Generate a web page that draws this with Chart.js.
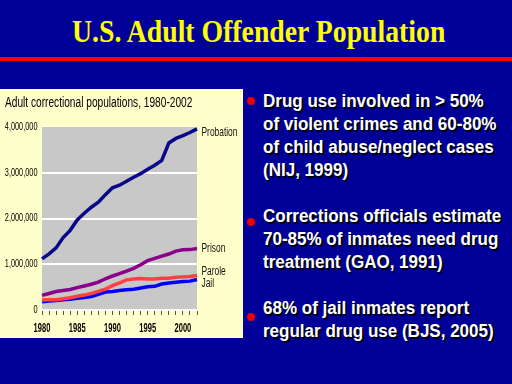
<!DOCTYPE html>
<html>
<head>
<meta charset="utf-8">
<script src="https://cdn.jsdelivr.net/npm/chart.js@4.4.1/dist/chart.umd.min.js"></script>
<style>
  html, body { margin: 0; padding: 0; }
  body { width: 512px; height: 384px; background: #000099; position: relative; overflow: hidden; }
  #title {
    position: absolute; left: 72px; top: 16px;
    font-family: 'Liberation Serif', 'Times New Roman', serif; font-weight: bold;
    font-size: 31px; line-height: 31px; color: #ffff00; white-space: nowrap;
    transform: scaleX(0.895); transform-origin: left top;
  }
  #rule { position: absolute; left: 0; top: 57px; width: 512px; height: 4px; background: #ff0000; }
  #panel { position: absolute; left: 0; top: 89px; width: 243px; height: 249px; background: #ffffcc; }
  .point {
    position: absolute; left: 263px; color: #ffffff;
    font-family: 'Liberation Sans', Arial, sans-serif; font-weight: bold;
    font-size: 18px; line-height: 23px; white-space: nowrap;
    text-shadow: 2px 2px 0 #000000;
    transform: scaleX(0.945); transform-origin: left top;
  }
  .dot { position: absolute; width: 8px; height: 8px; border-radius: 50%; background: #ee0000; }
</style>
</head>
<body>
<div id="title">U.S. Adult Offender Population</div>
<div id="rule"></div>
<div id="panel"><canvas id="chart" width="243" height="249"></canvas></div>

<div class="dot" style="left:247px; top:97px;"></div>
<div class="point" style="top:90px;">Drug use involved in &gt; 50%<br>of violent crimes and 60-80%<br>of child abuse/neglect cases<br>(NIJ, 1999)</div>

<div class="dot" style="left:247px; top:218px;"></div>
<div class="point" style="top:205px;">Corrections officials estimate<br>70-85% of inmates need drug<br>treatment (GAO, 1991)</div>

<div class="dot" style="left:247px; top:313px;"></div>
<div class="point" style="top:297px;">68% of jail inmates report<br>regular drug use (BJS, 2005)</div>

<script>
const years = ['1980','1981','1982','1983','1984','1985','1986','1987','1988','1989','1990',
               '1991','1992','1993','1994','1995','1996','1997','1998','1999','2000','2001','2002'];

const probation = [1118000, 1226000, 1357000, 1583000, 1741000, 1969000, 2115000, 2247000, 2356000, 2522000, 2670000,
                   2728000, 2812000, 2903000, 2981000, 3078000, 3165000, 3270000, 3650000, 3750000, 3810000, 3880000, 3960000];
const prison = [320000, 360000, 403000, 424000, 448000, 488000, 526000, 563000, 608000, 683000, 743000,
                793000, 851000, 909000, 990000, 1079000, 1128000, 1177000, 1224000, 1287000, 1316000, 1320000, 1345000];
const parole = [220000, 226000, 225000, 246000, 267000, 300000, 326000, 362000, 408000, 457000, 531000,
                590000, 659000, 676000, 690000, 679000, 680000, 695000, 696000, 714000, 724000, 732000, 753000];
const jail = [182000, 195000, 208000, 222000, 233000, 255000, 273000, 294000, 342000, 393000, 403000,
              424000, 442000, 456000, 480000, 507000, 518000, 567000, 592000, 606000, 621000, 631000, 665000];

const seriesNames = ['Probation', 'Prison', 'Parole', 'Jail'];
const yTicks = [0, 1000000, 2000000, 3000000, 4000000];
const chartTitle = 'Adult correctional populations, 1980-2002';

const sans = "'Liberation Sans', Arial, sans-serif";

// the original uses a very condensed font, so squeeze the text sideways
function narrowText(ctx, text, x, y, align, sx) {
    ctx.save();
    ctx.translate(x, y);
    ctx.scale(sx, 1);
    ctx.textAlign = align;
    ctx.fillText(text, 0, 0);
    ctx.restore();
}

// grey plot background
const plotBg = {
    id: 'plotBg',
    beforeDraw(chart) {
        const a = chart.chartArea;
        const ctx = chart.ctx;
        ctx.save();
        ctx.fillStyle = '#c8c8c8';
        ctx.fillRect(a.left, a.top, a.right - a.left, a.bottom - a.top);
        ctx.restore();
    }
};

// title, tick labels and the names at the right end of each line
const narrowLabels = {
    id: 'narrowLabels',
    afterDraw(chart) {
        const ctx = chart.ctx;
        const a = chart.chartArea;
        const xs = chart.scales.x;
        const ys = chart.scales.y;
        ctx.save();
        ctx.fillStyle = '#000000';
        ctx.textBaseline = 'middle';

        ctx.font = '14px ' + sans;
        narrowText(ctx, chartTitle, 5, 14, 'left', 0.725);

        ctx.font = '10.5px ' + sans;
        yTicks.forEach(v => {
            narrowText(ctx, v.toLocaleString('en-US'), a.left - 4.5, ys.getPixelForValue(v), 'right', 0.7);
        });

        ctx.font = 'bold 13.5px ' + sans;
        years.forEach((yr, i) => {
            if (Number(yr) % 5 === 0) {
                narrowText(ctx, yr, xs.getPixelForValue(i), a.bottom + 18, 'center', 0.56);
            }
        });

        ctx.font = '12px ' + sans;
        ctx.fillStyle = '#111111';
        const nudge = [4, 0, -4, 4];
        chart.data.datasets.forEach((ds, i) => {
            const pts = chart.getDatasetMeta(i).data;
            const last = pts[pts.length - 1];
            narrowText(ctx, ds.label, a.right + 4.5, last.y + nudge[i], 'left', 0.7);
        });
        ctx.restore();
    }
};

new Chart(document.getElementById('chart'), {
    type: 'line',
    data: {
        labels: years,
        datasets: [
            { label: seriesNames[0], data: probation, borderColor: '#080888' },
            { label: seriesNames[1], data: prison, borderColor: '#8a008a' },
            { label: seriesNames[2], data: parole, borderColor: '#ff4040' },
            { label: seriesNames[3], data: jail, borderColor: '#0000ff' }
        ]
    },
    options: {
        responsive: false,
        animation: false,
        devicePixelRatio: 1,
        clip: false,
        elements: {
            line: { borderWidth: 3.5, tension: 0 },
            point: { radius: 0 }
        },
        layout: { padding: { left: 0, right: 46, top: 38, bottom: 0 } },
        plugins: {
            legend: { display: false },
            tooltip: { enabled: false },
            title: { display: false }
        },
        scales: {
            x: {
                type: 'category',
                offset: false,
                afterFit(scale) { scale.height = 28; },
                border: { color: '#ffffff', width: 2 },
                grid: { drawOnChartArea: false, tickLength: 5, color: '#555555' },
                ticks: { display: false, autoSkip: false, maxRotation: 0 }
            },
            y: {
                min: yTicks[0],
                max: yTicks[yTicks.length - 1],
                afterFit(scale) { scale.width = 42; },
                afterBuildTicks(scale) { scale.ticks = yTicks.map(v => ({ value: v })); },
                border: { display: false },
                grid: {
                    drawTicks: false,
                    lineWidth: 2,
                    color(ctx) { return ctx.tick && ctx.tick.value === yTicks[yTicks.length - 1] ? 'rgba(0,0,0,0)' : '#ffffff'; }
                },
                ticks: { display: false }
            }
        }
    },
    plugins: [plotBg, narrowLabels]
});
</script>
</body>
</html>
